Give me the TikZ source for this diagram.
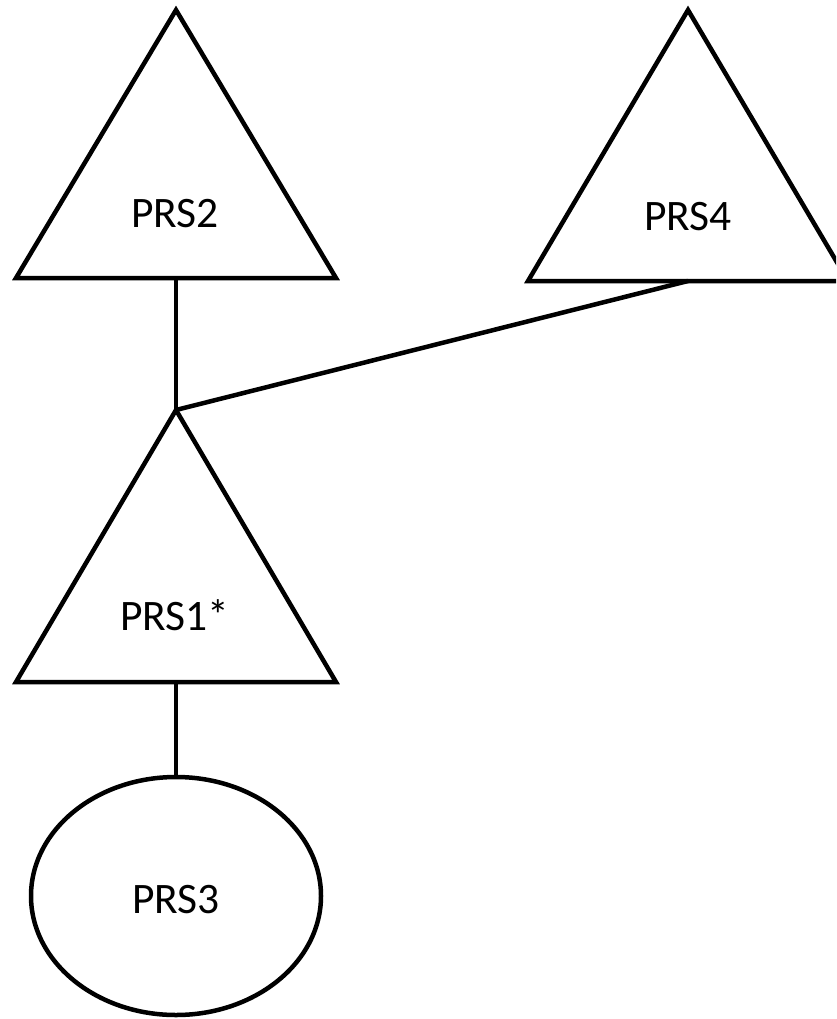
\documentclass[tikz,border=0pt]{standalone}
\usepackage{fontspec}
\setmainfont{Carlito}
\begin{document}
\begin{tikzpicture}[x=1pt,y=-1pt,line width=4.5pt,line join=miter,
  shapeline/.style={draw=black,line width=4.5pt},
  conn/.style={draw=black,line width=4.5pt},
  lbl/.style={anchor=base,inner sep=0pt,font=\fontsize{43.5}{50}\selectfont}]
\useasboundingbox (0,0) rectangle (836,1019);
\clip (0,0) rectangle (836,1019);
% triangles
\draw[shapeline] (176,10) -- (336,278) -- (16,278) -- cycle;
\draw[shapeline] (688,10) -- (848,281) -- (528,281) -- cycle;
\draw[shapeline] (176,410) -- (336,682) -- (16,682) -- cycle;
\draw[shapeline] (176,896) ellipse [x radius=145, y radius=119];
% labels
\node[lbl] (prs2) at (175,227) {PRS2};
\node[lbl] (prs4) at (688,230) {PRS4};
\node[lbl] (prs1) at (175,630) {PRS1*};
\node[lbl] (prs3) at (176,913) {PRS3};
% connection points
\coordinate (p2b) at (176,278);
\coordinate (p4b) at (688,281);
\coordinate (p1t) at (176,410);
\coordinate (p1b) at (176,682);
\coordinate (p3t) at (176,777);
\draw[conn] (p2b) -- (p1t);
\draw[conn] (p4b) -- (p1t);
\draw[conn] (p1b) -- (p3t);
\end{tikzpicture}
\end{document}
